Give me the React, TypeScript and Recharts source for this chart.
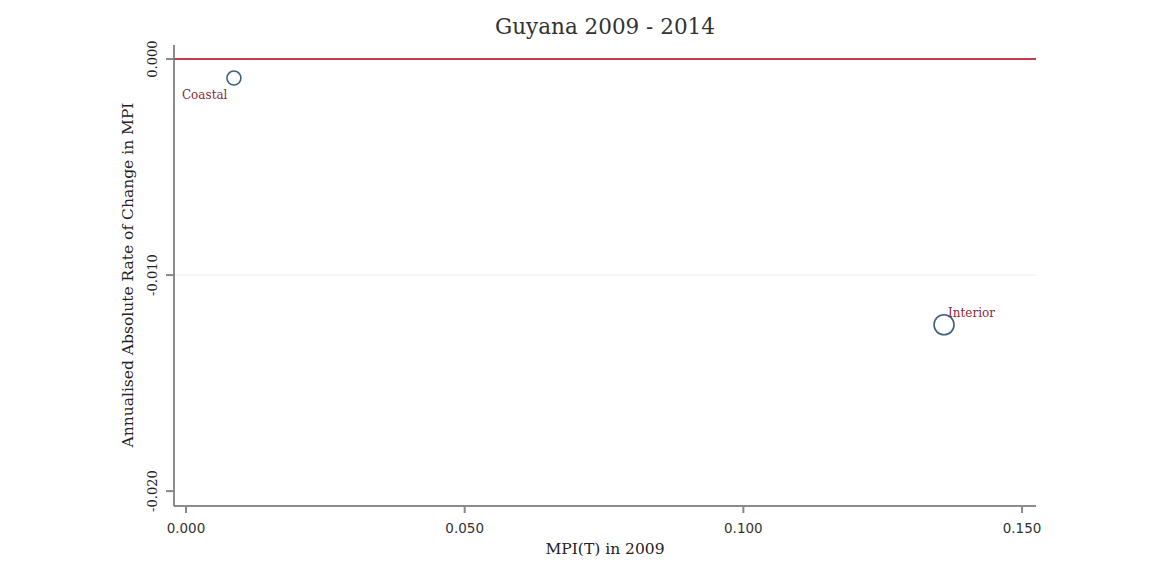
import React from "react";
import {
  ScatterChart,
  Scatter,
  XAxis,
  YAxis,
  ReferenceLine,
} from "recharts";

const regions = ["Coastal", "Interior"];
const mpi2009 = [0.0086, 0.136];
const rateOfChange = [-0.00088, -0.0123];
const markerRadius = [7, 10];

const xTicks = [0, 0.05, 0.1, 0.15];
const yTicks = [0, -0.01, -0.02];

const data = regions.map((name, i) => ({
  name,
  x: mpi2009[i],
  y: rateOfChange[i],
  r: markerRadius[i],
}));

const SERIF = "'DejaVu Serif', 'Liberation Serif', serif";
const SANS = "'DejaVu Sans', Verdana, sans-serif";

function Marker(props: any) {
  const { cx, cy, payload } = props;
  const coastal = payload.name === "Coastal";
  return (
    <g>
      <circle cx={cx} cy={cy} r={payload.r} fill="none" stroke="#3e6282" strokeWidth={1.6} />
      <text
        x={coastal ? cx - 52 : cx + 4}
        y={coastal ? cy + 21 : cy - 8}
        fontFamily={SERIF}
        fontSize={12}
        fill="#8b2a35"
      >
        {payload.name}
      </text>
    </g>
  );
}

function YTick(props: any) {
  const { y, payload } = props;
  const x = 157;
  return (
    <text
      x={x}
      y={y}
      transform={`rotate(-90, ${x}, ${y})`}
      textAnchor="middle"
      fontFamily={SERIF}
      fontSize={13}
      fill="#222"
    >
      {payload.value.toFixed(3)}
    </text>
  );
}

function XTick(props: any) {
  const { x, payload } = props;
  return (
    <text x={x} y={533} textAnchor="middle" fontFamily={SANS} fontSize={13.5} fill="#333">
      {payload.value.toFixed(3)}
    </text>
  );
}

export default function App() {
  return (
    <div style={{ position: "absolute", left: 0, top: 0, background: "#fff" }}>
      <ScatterChart
        width={1151}
        height={575}
        margin={{ top: 45, right: 115, bottom: 39, left: 114 }}
      >
        <text x={605} y={34} textAnchor="middle" fontFamily={SERIF} fontSize={21.5} fill="#333">
          Guyana 2009 - 2014
        </text>
        <XAxis
          type="number"
          dataKey="x"
          domain={[-0.00215, 0.1525]}
          ticks={xTicks}
          allowDataOverflow
          height={30}
          stroke="#666"
          tickSize={7}
          tick={<XTick />}
          tickLine={{ stroke: "#888", strokeWidth: 2 }}
          axisLine={{ stroke: "#666", strokeWidth: 1.5 }}
        />
        <YAxis
          type="number"
          dataKey="y"
          domain={[-0.02069, 0.00065]}
          ticks={yTicks}
          allowDataOverflow
          width={60}
          tickSize={8}
          tick={<YTick />}
          tickLine={{ stroke: "#888", strokeWidth: 2 }}
          axisLine={{ stroke: "#666", strokeWidth: 1.5 }}
        />
        <ReferenceLine y={-0.01} stroke="#ececec" strokeWidth={1} />
        <ReferenceLine y={0} stroke="#c9384f" strokeWidth={2} />
        <Scatter data={data} shape={<Marker />} isAnimationActive={false} />
        <text x={605} y={554} textAnchor="middle" fontFamily={SERIF} fontSize={15.5} fill="#222">
          MPI(T) in 2009
        </text>
        <text
          x={133}
          y={275}
          transform="rotate(-90, 133, 275)"
          textAnchor="middle"
          fontFamily={SERIF}
          fontSize={15.5}
          fill="#222"
        >
          Annualised Absolute Rate of Change in MPI
        </text>
      </ScatterChart>
    </div>
  );
}
